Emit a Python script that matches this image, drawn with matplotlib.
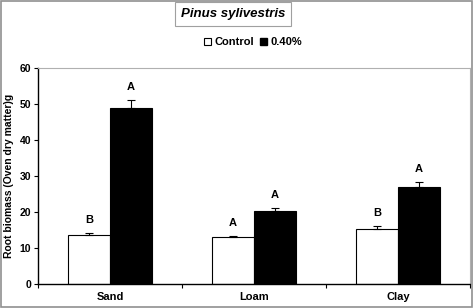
import matplotlib.pyplot as plt
from matplotlib.patches import Rectangle
import numpy as np

plt.rcParams['font.family'] = ['Liberation Sans', 'DejaVu Sans']
plt.rcParams['font.weight'] = 'bold'

# data
soils = ["Sand", "Loam", "Clay"]
control = [13.5, 13.0, 15.2]
control_err = [0.7, 0.3, 1.0]
treated = [49.0, 20.2, 27.0]
treated_err = [2.2, 0.9, 1.3]
control_letters = ["B", "A", "B"]
treated_letters = ["A", "A", "A"]

fig = plt.figure(figsize=(4.73, 3.08), dpi=100)
ax = fig.add_axes([38 / 473, 1 - 284 / 308, 432 / 473, 216 / 308])

x = np.arange(len(soils))
w = 0.29
ax.bar(x - w / 2, control, w, color='white', edgecolor='black', linewidth=0.8,
       yerr=[np.zeros(3), control_err], error_kw=dict(ecolor='black', elinewidth=0.8, capsize=3, capthick=0.8))
ax.bar(x + w / 2, treated, w, color='black', edgecolor='black', linewidth=0.8,
       yerr=[np.zeros(3), treated_err], error_kw=dict(ecolor='black', elinewidth=0.8, capsize=3, capthick=0.8))

for i in range(3):
    ax.text(x[i] - w / 2, control[i] + control_err[i] + 2.2, control_letters[i],
            ha='center', va='bottom', fontsize=8, fontweight='bold')
    ax.text(x[i] + w / 2, treated[i] + treated_err[i] + 2.2, treated_letters[i],
            ha='center', va='bottom', fontsize=8, fontweight='bold')

ax.set_xlim(-0.5, 2.5)
ax.set_ylim(0, 60)
ax.set_yticks(range(0, 61, 10))
ax.set_xticks(x)
ax.set_xticklabels(soils, fontsize=8, fontweight='bold')
ax.set_xticks([-0.5, 0.5, 1.5, 2.5], minor=True)
ax.tick_params(axis='x', which='major', length=0, pad=6)
ax.tick_params(axis='x', which='minor', length=3, width=0.8, direction='out')
ax.tick_params(axis='y', length=3, width=0.8, labelsize=7.5, pad=2)
for lab in ax.get_yticklabels():
    lab.set_fontweight('bold')

ax.spines['left'].set_linewidth(1.0)
ax.spines['bottom'].set_linewidth(1.0)
ax.spines['top'].set_color('#b0b0b0')
ax.spines['right'].set_color('#b0b0b0')

ax.set_ylabel("Root biomass (Oven dry matter)g", fontsize=7.5, fontweight='bold', labelpad=4)

# title in a box
fig.text(233 / 473, 1 - 14 / 308, "Pinus sylivestris", ha='center', va='center',
         fontsize=9.5, fontweight='bold', style='italic',
         bbox=dict(boxstyle='square,pad=0.45', facecolor='white', edgecolor='#a0a0a0', linewidth=0.8))

# legend
fig.legend(handles=[Rectangle((0, 0), 1, 1, facecolor='white', edgecolor='black', linewidth=0.8),
                    Rectangle((0, 0), 1, 1, facecolor='black', edgecolor='black')],
           labels=["Control", "0.40%"], loc='center', bbox_to_anchor=(253 / 473, 1 - 42 / 308),
           ncol=2, frameon=False, fontsize=8, handlelength=0.6, handleheight=0.6,
           handletextpad=0.3, columnspacing=0.6)

# outer frame
fig.patches.append(Rectangle((0.002, 0.003), 0.996, 0.994, transform=fig.transFigure,
                             fill=False, edgecolor='#909090', linewidth=1.2))

fig.savefig("out.png", dpi=100)
